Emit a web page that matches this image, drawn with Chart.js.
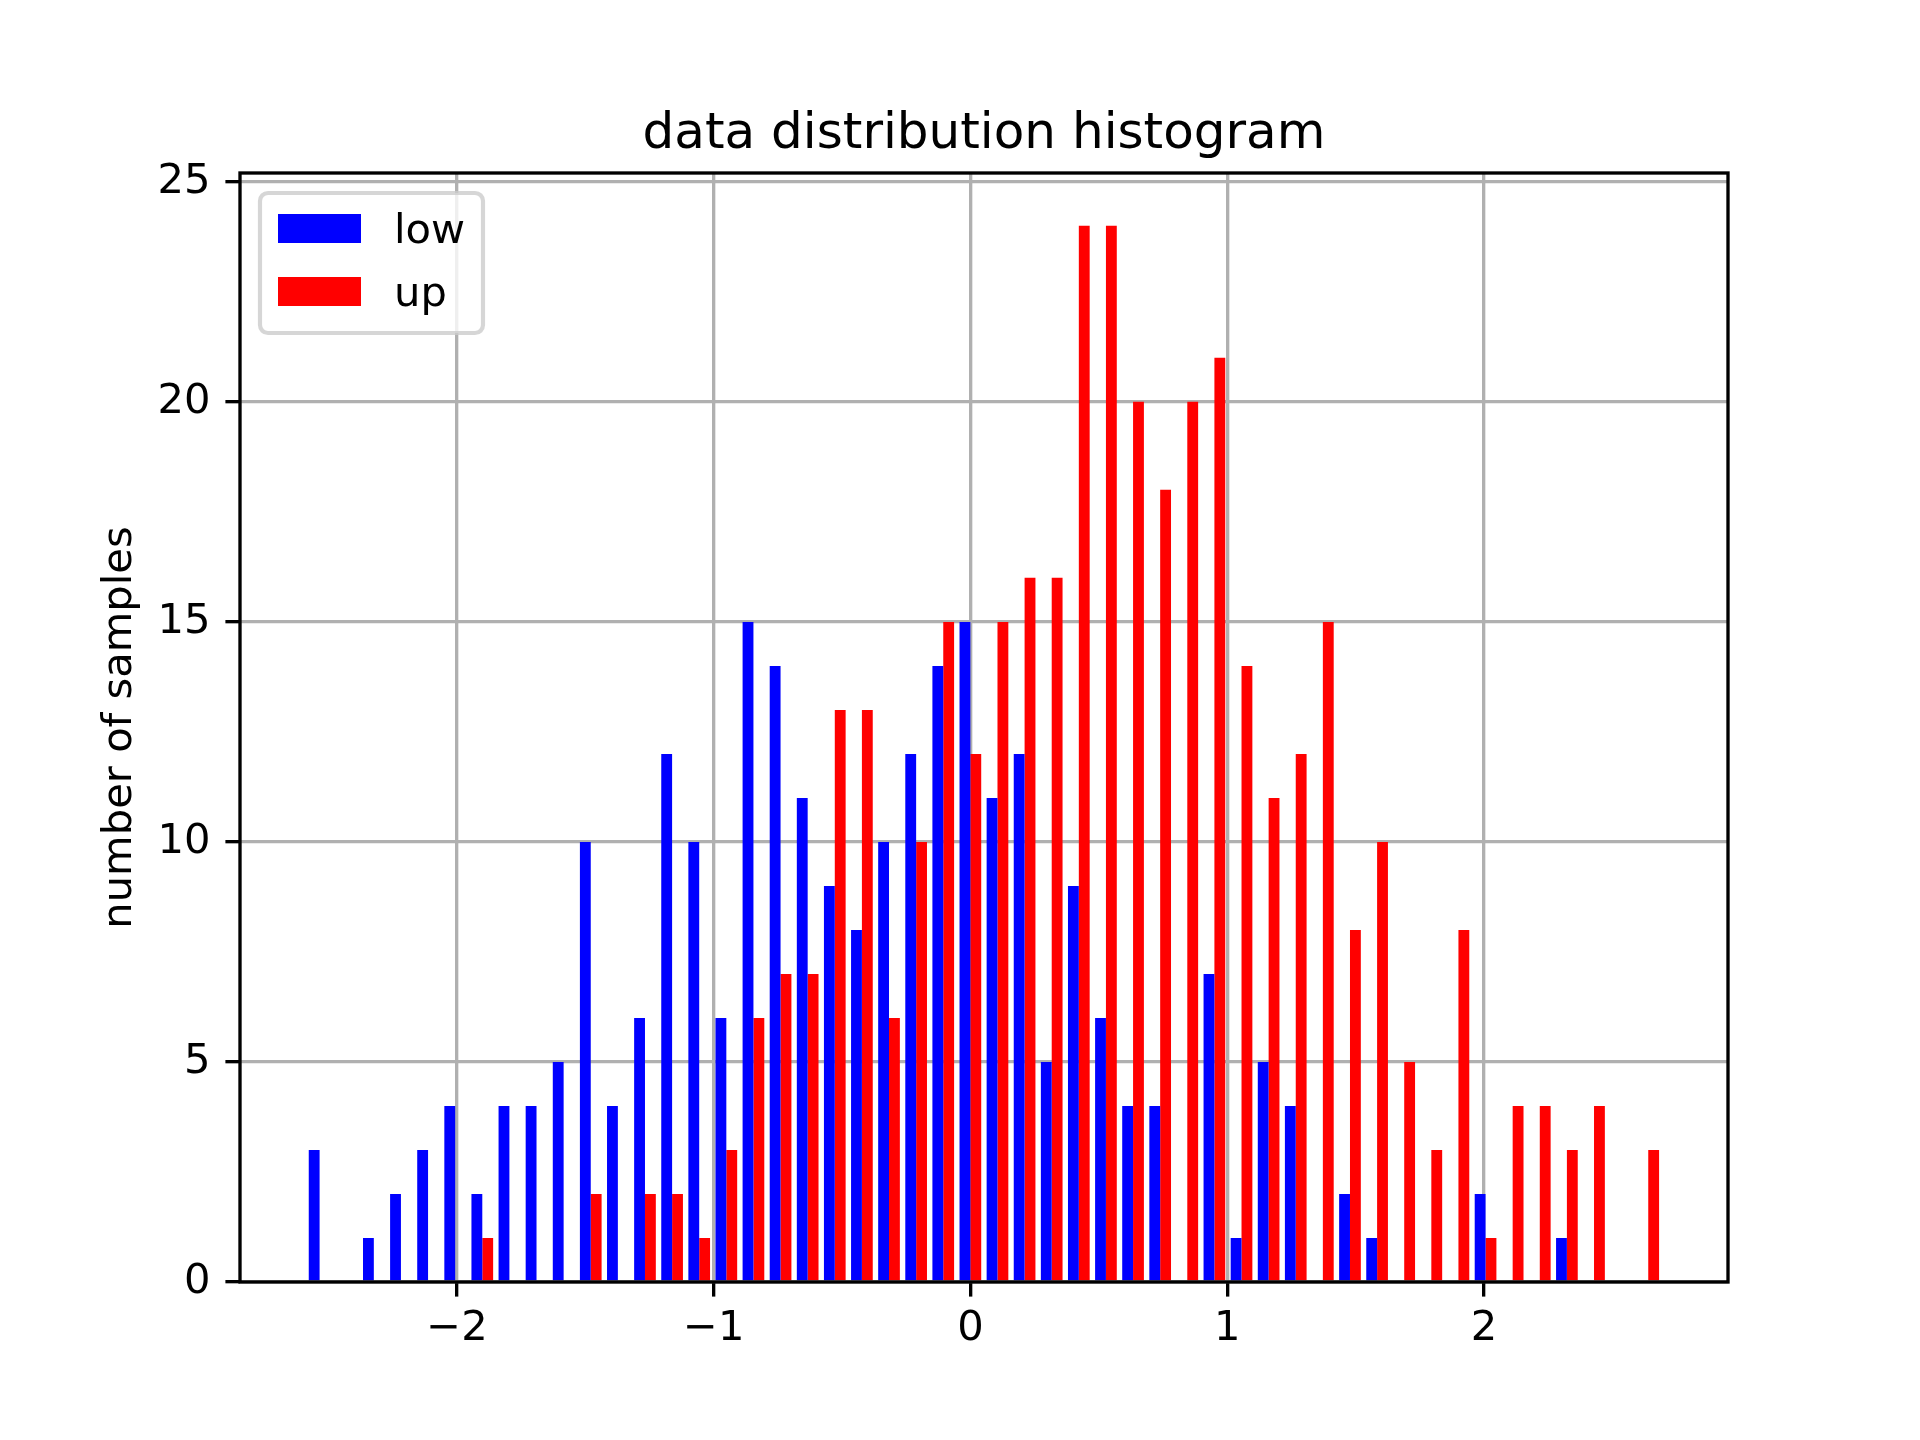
<!DOCTYPE html>
<html>
<head>
<meta charset="utf-8">
<title>data distribution histogram</title>
<script src="https://cdn.jsdelivr.net/npm/chart.js@4.4.1/dist/chart.umd.min.js"></script>
<style>
  html, body { margin: 0; padding: 0; background: #fff; }
  canvas { display: block; }
</style>
</head>
<body>
<canvas id="hist" width="1920" height="1440"></canvas>
<script>
// ── Data ──────────────────────────────────────────────────────────────
const binCenters = [
  -2.5350, -2.4294, -2.3238, -2.2182, -2.1126, -2.0070, -1.9014, -1.7958, -1.6902, -1.5846,
  -1.4790, -1.3734, -1.2678, -1.1622, -1.0566, -0.9510, -0.8454, -0.7398, -0.6342, -0.5286,
  -0.4230, -0.3174, -0.2118, -0.1062, -0.0006,  0.1050,  0.2106,  0.3162,  0.4218,  0.5274,
   0.6330,  0.7386,  0.8442,  0.9498,  1.0554,  1.1610,  1.2666,  1.3722,  1.4778,  1.5834,
   1.6890,  1.7946,  1.9002,  2.0058,  2.1114,  2.2170,  2.3226,  2.4282,  2.5338,  2.6394,
];

const lowCounts = [
  3, 0, 1, 2, 3, 4, 2, 4, 4, 5,
  10, 4, 6, 12, 10, 6, 15, 14, 11, 9,
  8, 10, 12, 14, 15, 11, 12, 5, 9, 6,
  4, 4, 0, 7, 1, 5, 4, 0, 2, 1,
  0, 0, 0, 2, 0, 0, 1, 0, 0, 0,
];

const upCounts = [
  0, 0, 0, 0, 0, 0, 1, 0, 0, 0,
  2, 0, 2, 2, 1, 3, 6, 7, 7, 13,
  13, 6, 10, 15, 12, 15, 16, 16, 24, 24,
  20, 18, 20, 21, 14, 11, 12, 15, 8, 10,
  5, 3, 8, 1, 4, 4, 3, 4, 0, 3,
];

const seriesLabels = ['low', 'up'];
const xTicks = [-2, -1, 0, 1, 2];
const yTicks = [0, 5, 10, 15, 20, 25];

// ── Look ──────────────────────────────────────────────────────────────
const COLORS = {
  low:   '#0000ff',
  up:    '#ff0000',
  grid:  '#b0b0b0',
  text:  '#000000',
};
const FONT = 'DejaVu Sans';
const LW = 3.33;        // 0.8pt at 300 dpi
const TICK_LEN = 14.6;  // 3.5pt

// ── Extras drawn on top: frame, title, y label, legend ────────────────
const extras = {
  id: 'extras',
  afterDraw(chart) {
    const { ctx, chartArea: a } = chart;
    ctx.save();

    // axes frame
    ctx.strokeStyle = '#000';
    ctx.lineWidth = LW;
    ctx.strokeRect(a.left, a.top, a.right - a.left, a.bottom - a.top);

    // title
    ctx.fillStyle = COLORS.text;
    ctx.font = `50px "${FONT}"`;
    ctx.textAlign = 'center';
    ctx.textBaseline = 'alphabetic';
    ctx.fillText('data distribution histogram', (a.left + a.right) / 2, a.top - 25);

    // y label
    ctx.save();
    ctx.translate(131, (a.top + a.bottom) / 2);
    ctx.rotate(-Math.PI / 2);
    ctx.font = `41.67px "${FONT}"`;
    ctx.fillText('number of samples', 0, 0);
    ctx.restore();

    // legend box
    const bx = 260, by = 193, bw = 223, bh = 140, r = 8;
    ctx.beginPath();
    ctx.moveTo(bx + r, by);
    ctx.arcTo(bx + bw, by, bx + bw, by + bh, r);
    ctx.arcTo(bx + bw, by + bh, bx, by + bh, r);
    ctx.arcTo(bx, by + bh, bx, by, r);
    ctx.arcTo(bx, by, bx + bw, by, r);
    ctx.closePath();
    ctx.fillStyle = 'rgba(255,255,255,0.8)';
    ctx.fill();
    ctx.strokeStyle = 'rgba(204,204,204,0.8)';
    ctx.lineWidth = 4.17;
    ctx.stroke();

    const rows = [
      { label: seriesLabels[0], color: COLORS.low, top: 214 },
      { label: seriesLabels[1], color: COLORS.up,  top: 277 },
    ];
    ctx.font = `41.67px "${FONT}"`;
    ctx.textAlign = 'left';
    ctx.textBaseline = 'alphabetic';
    rows.forEach(row => {
      ctx.fillStyle = row.color;
      ctx.fillRect(278, row.top, 83, 29);
      ctx.fillStyle = COLORS.text;
      ctx.fillText(row.label, 394, row.top + 29);
    });

    ctx.restore();
  },
};

// ── Chart ─────────────────────────────────────────────────────────────
const ctx = document.getElementById('hist').getContext('2d');

new Chart(ctx, {
  type: 'bar',
  data: {
    datasets: [
      {
        label: seriesLabels[0],
        data: binCenters.map((x, i) => ({ x, y: lowCounts[i] })),
        backgroundColor: COLORS.low,
        borderWidth: 0,
        categoryPercentage: 0.8,
        barPercentage: 1.0,
      },
      {
        label: seriesLabels[1],
        data: binCenters.map((x, i) => ({ x, y: upCounts[i] })),
        backgroundColor: COLORS.up,
        borderWidth: 0,
        categoryPercentage: 0.8,
        barPercentage: 1.0,
      },
    ],
  },
  options: {
    responsive: false,
    devicePixelRatio: 1,
    animation: false,
    layout: { padding: { left: 0, top: 173, right: 192, bottom: 0 } },
    plugins: {
      legend: { display: false },
      title: { display: false },
      tooltip: { enabled: false },
    },
    scales: {
      x: {
        type: 'linear',
        position: 'bottom',
        min: -2.845,
        max: 2.95,
        offset: false,
        z: 1,
        afterFit: s => { s.height = 158; },
        afterBuildTicks: s => { s.ticks = xTicks.map(v => ({ value: v })); },
        grid: {
          offset: false,
          color: COLORS.grid,
          lineWidth: LW,
          tickColor: '#000',
          tickWidth: LW,
          tickLength: TICK_LEN,
        },
        border: { display: false },
        ticks: {
          color: COLORS.text,
          font: { family: FONT, size: 41.67 },
          padding: 8,
          maxRotation: 0,
          callback: v => String(v).replace('-', '\u2212'),
        },
      },
      y: {
        type: 'linear',
        min: 0,
        max: 25.2,
        z: 1,
        afterFit: s => { s.width = 240; },
        afterBuildTicks: s => { s.ticks = yTicks.map(v => ({ value: v })); },
        grid: {
          color: COLORS.grid,
          lineWidth: LW,
          tickColor: '#000',
          tickWidth: LW,
          tickLength: TICK_LEN,
        },
        border: { display: false },
        ticks: {
          color: COLORS.text,
          font: { family: FONT, size: 41.67 },
          padding: 15,
          callback: v => String(v),
        },
      },
    },
  },
  plugins: [extras],
});
</script>
</body>
</html>
